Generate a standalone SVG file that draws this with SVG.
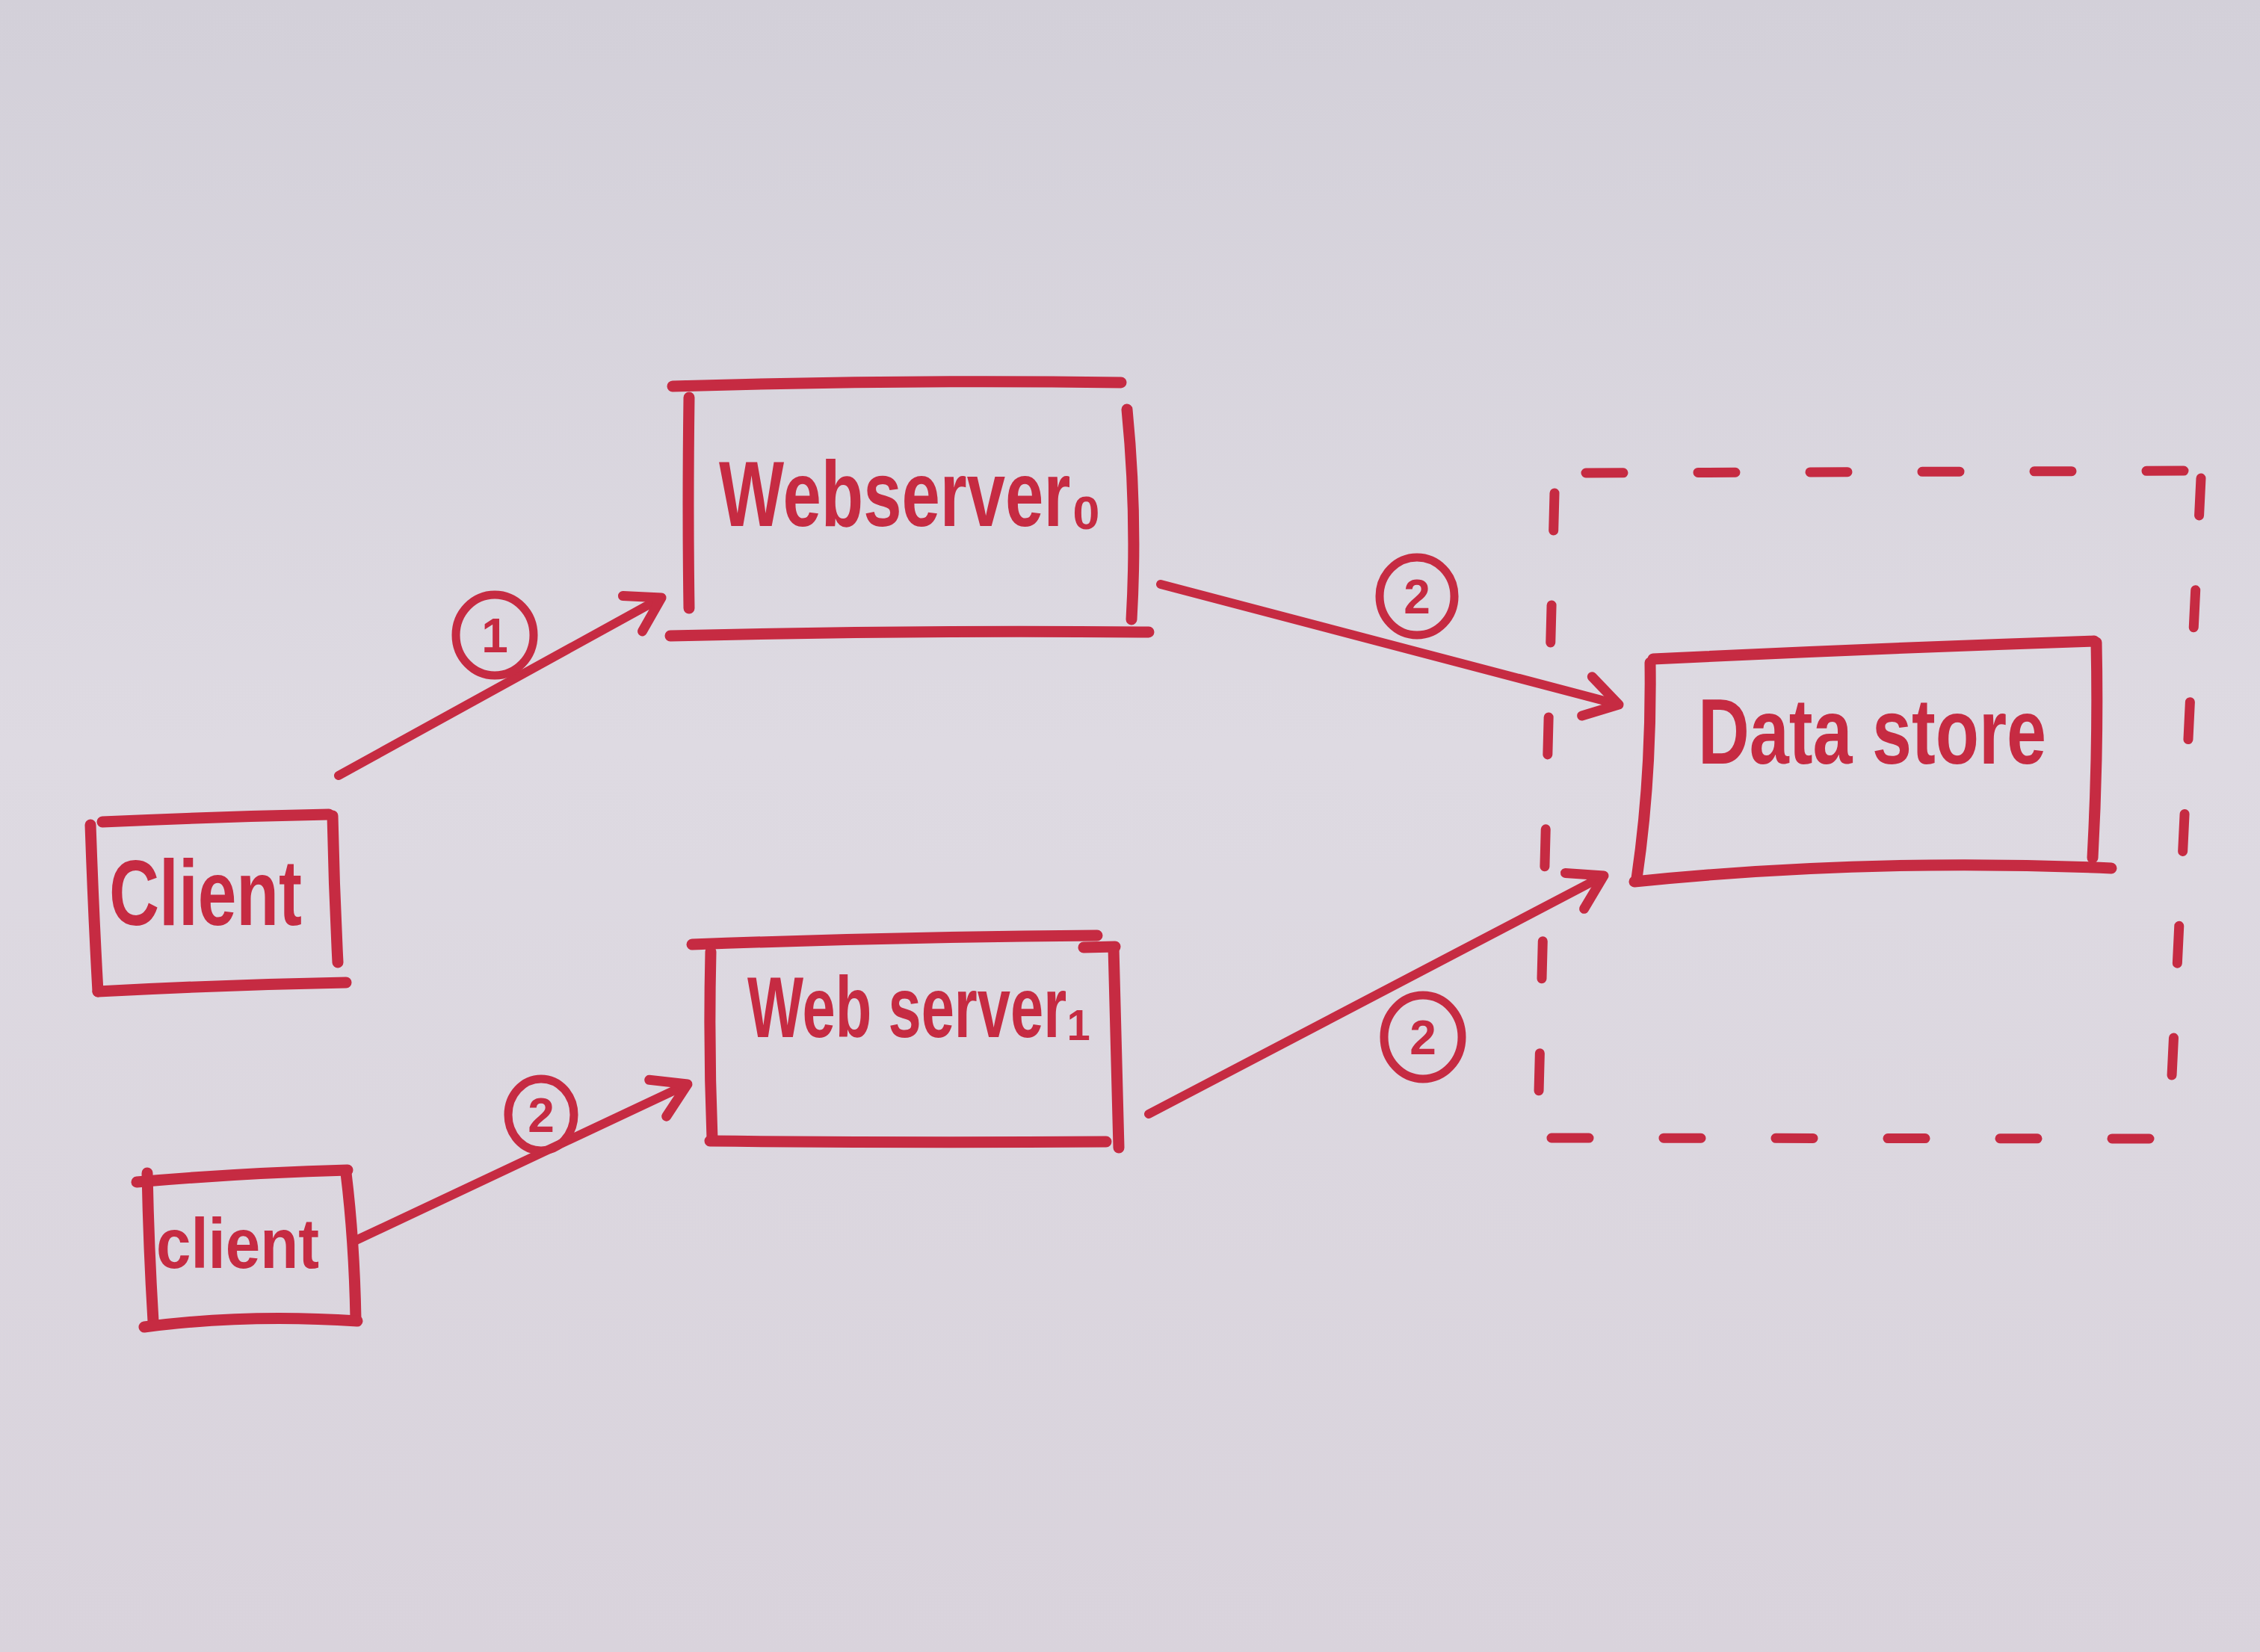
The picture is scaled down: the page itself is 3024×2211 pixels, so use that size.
<svg xmlns="http://www.w3.org/2000/svg" width="3024" height="2211" viewBox="0 0 3024 2211">
  <defs>
    <linearGradient id="bg" x1="0" y1="0" x2="0" y2="1">
      <stop offset="0" stop-color="#d3d0d9"/>
      <stop offset="0.45" stop-color="#dedae2"/>
      <stop offset="1" stop-color="#d9d3dc"/>
    </linearGradient>
    <marker id="arrow" markerUnits="userSpaceOnUse" viewBox="0 0 70 70" refX="62" refY="35" markerWidth="70" markerHeight="70" orient="auto">
      <path d="M18,8 L62,35 L18,62" fill="none" stroke="#c62b42" stroke-width="13" stroke-linecap="round" stroke-linejoin="round"/>
    </marker>
    <style>
      .ink { fill: none; stroke: #c62b42; stroke-width: 15; stroke-linecap: round; stroke-linejoin: round; }
      .conn { fill: none; stroke: #c62b42; stroke-width: 12; stroke-linecap: round; }
      .thin { fill: none; stroke: #c62b42; stroke-width: 11; stroke-linecap: round; }
      .dash { fill: none; stroke: #c62b42; stroke-width: 13; stroke-linecap: round; stroke-dasharray: 50 100; }
      .lbl { fill: #c62b42; font-family: "Liberation Sans", "DejaVu Sans", Arial, sans-serif; font-weight: bold; }
      .num { fill: #c62b42; font-family: "Liberation Sans", Arial, sans-serif; font-weight: bold; font-size: 64px; text-anchor: middle; }
    </style>
  </defs>

  <rect x="0" y="0" width="3024" height="2211" fill="url(#bg)"/>

  <!-- Data store boundary (dashed) -->
  <g id="datastore-boundary">
    <path class="dash" d="M2122,633 L2945,630"/>
    <path class="dash" d="M2945,640 L2902,1522"/>
    <path class="dash" d="M2076,1523 L2895,1524"/>
    <path class="dash" d="M2080,660 L2058,1500"/>
  </g>

  <g id="webserver0">
    <path class="ink" d="M900,517 Q1200,508 1500,512"/>
    <path class="ink" d="M922,532 Q920,680 922,814"/>
    <path class="ink" d="M1508,548 Q1522,690 1514,829"/>
    <path class="ink" d="M897,851 Q1220,843 1537,846"/>
    <text class="lbl" x="962" y="704" font-size="125" textLength="512" lengthAdjust="spacingAndGlyphs">Webserver₀</text>
  </g>

  <g id="client0">
    <path class="ink" d="M137,1100 Q290,1093 440,1090"/>
    <path class="ink" d="M121,1104 Q125,1220 131,1327"/>
    <path class="ink" d="M445,1092 Q447,1190 452,1288"/>
    <path class="ink" d="M131,1327 Q300,1318 463,1315"/>
    <text class="lbl" x="146" y="1238" font-size="125" textLength="258" lengthAdjust="spacingAndGlyphs">Client</text>
  </g>

  <g id="client1">
    <path class="ink" d="M183,1582 Q320,1570 465,1566"/>
    <path class="ink" d="M197,1570 Q199,1670 205,1768"/>
    <path class="ink" d="M463,1570 Q474,1660 476,1765"/>
    <path class="ink" d="M193,1776 Q330,1758 478,1768"/>
    <text class="lbl" x="209" y="1697" font-size="95" textLength="218" lengthAdjust="spacingAndGlyphs">client</text>
  </g>

  <g id="webserver1">
    <path class="ink" d="M926,1264 Q1200,1254 1468,1252"/>
    <path class="ink" d="M1450,1268 L1492,1267"/>
    <path class="ink" d="M951,1274 Q948,1400 953,1524"/>
    <path class="ink" d="M1490,1268 Q1494,1400 1497,1536"/>
    <path class="ink" d="M950,1527 Q1220,1530 1480,1528"/>
    <text class="lbl" x="1000" y="1388" font-size="115" textLength="460" lengthAdjust="spacingAndGlyphs">Web server₁</text>
  </g>

  <g id="datastore">
    <path class="ink" d="M2212,882 Q2500,868 2802,858"/>
    <path class="ink" d="M2208,887 Q2210,1040 2190,1176"/>
    <path class="ink" d="M2805,860 Q2808,1000 2800,1148"/>
    <path class="ink" d="M2187,1180 Q2500,1148 2825,1162"/>
    <text class="lbl" x="2272" y="1022" font-size="125" textLength="466" lengthAdjust="spacingAndGlyphs">Data store</text>
  </g>

  <g id="connectors">
    <path class="conn" d="M453,1038 L885,800" marker-end="url(#arrow)"/>
    <path class="conn" d="M1553,782 L2166,943" marker-end="url(#arrow)"/>
    <path class="conn" d="M472,1662 L920,1451" marker-end="url(#arrow)"/>
    <path class="conn" d="M1537,1491 L2146,1172" marker-end="url(#arrow)"/>

    <g id="label-1">
      <ellipse class="thin" cx="662" cy="850" rx="52" ry="54"/>
      <text class="num" x="662" y="873">1</text>
    </g>
    <g id="label-2a">
      <ellipse class="thin" cx="1896" cy="798" rx="50" ry="52"/>
      <text class="num" x="1896" y="821">2</text>
    </g>
    <g id="label-2b">
      <ellipse class="thin" cx="724" cy="1492" rx="44" ry="48"/>
      <text class="num" x="724" y="1515">2</text>
    </g>
    <g id="label-2c">
      <ellipse class="thin" cx="1904" cy="1388" rx="52" ry="56"/>
      <text class="num" x="1904" y="1411">2</text>
    </g>
  </g>
</svg>
